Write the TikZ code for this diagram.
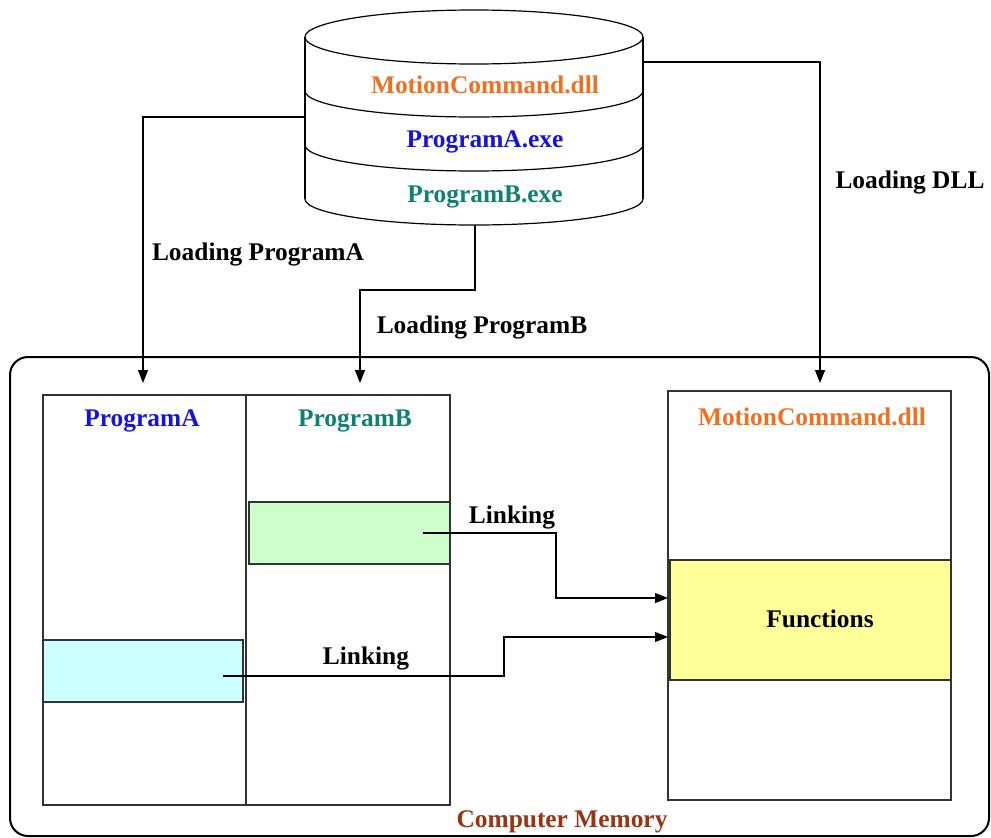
\documentclass[tikz,border=0pt]{standalone}
\usepackage{fontspec}
\setmainfont{Liberation Serif}
\usetikzlibrary{arrows.meta}
\definecolor{dllorange}{HTML}{F07020}
\definecolor{progblue}{HTML}{1414DC}
\definecolor{progteal}{HTML}{108070}
\definecolor{membrown}{HTML}{993311}
\definecolor{linkgreen}{HTML}{CCFFCC}
\definecolor{linkcyan}{HTML}{CCFFFF}
\definecolor{funcyellow}{HTML}{FFFF99}
\definecolor{edge}{HTML}{333333}
\tikzset{
  lbl/.style={font=\fontsize{25.4}{29}\selectfont\bfseries, inner sep=0pt},
  box/.style={draw=edge, line width=1.2pt, inner sep=0pt},
  conn/.style={draw=black, line width=1.1pt},
  arr/.style={conn, -{Triangle[length=13pt,width=10pt]}},
}
\begin{document}
\begin{tikzpicture}[x=1pt,y=-1pt]
\useasboundingbox (0,0) rectangle (991,838);

% computer memory frame
\draw[line width=2pt, rounded corners=18pt] (10,357) rectangle (989,836);
\node[lbl, text=membrown] (mem) at (562,822) {Computer Memory};

% disk holding the files
\fill[white] (305,37) -- (305,199) arc[start angle=180,end angle=360,x radius=169pt,y radius=26pt] -- (643,37) -- cycle;
\draw[conn, line width=1.2pt] (474,37) ellipse [x radius=169pt, y radius=27pt];
\draw[conn, line width=1.2pt] (305,37) -- (305,199);
\draw[conn, line width=1.2pt] (643,37) -- (643,199);
\foreach \yy in {91,145,199}
  \draw[conn, line width=1.2pt] (305,\yy) arc[start angle=180,end angle=360,x radius=169pt,y radius=26pt];
\node[lbl, text=dllorange] (fdll) at (485,85) {MotionCommand.dll};
\node[lbl, text=progblue] (fa) at (485,142) {ProgramA.exe};
\node[lbl, text=progteal] (fb) at (485,197) {ProgramB.exe};
\coordinate (dbL) at (305,117);
\coordinate (dbB) at (475,225);
\coordinate (dbR) at (643,62);

% memory regions
\node[box, minimum width=203pt, minimum height=410pt] (progA) at (144.5,600) {};
\node[box, minimum width=204pt, minimum height=410pt] (progB) at (348,600) {};
\node[lbl, text=progblue] (labA) at (142,421) {ProgramA};
\node[lbl, text=progteal] (labB) at (355,421) {ProgramB};
\node[box, fill=linkgreen, minimum width=201pt, minimum height=62pt] (stubB) at (349.5,533) {};
\node[box, fill=linkcyan, minimum width=200pt, minimum height=62pt] (stubA) at (143,671) {};

\node[box, minimum width=283pt, minimum height=409pt] (dll) at (809.5,595.5) {};
\node[lbl, text=dllorange] (labD) at (812,417) {MotionCommand.dll};
\node[box, fill=funcyellow, minimum width=281pt, minimum height=120pt] (func) at (810.5,620) {};
\node[lbl] (labF) at (820,619) {Functions};

% loading connectors
\coordinate (inA) at (143,383);
\coordinate (inB) at (360,383);
\coordinate (inD) at (820,383);
\coordinate (bendB) at (475,290);
\draw[arr] (dbL) -| (inA);
\draw[arr] (dbB) -- (bendB) -| (inB);
\draw[arr] (dbR) -| (inD);
\node[lbl] (ldA) at (258,254) {Loading ProgramA};
\node[lbl] (ldB) at (482,327) {Loading ProgramB};
\node[lbl] (ldD) at (910,182) {Loading DLL};

% linking connectors
\coordinate (srcB) at (423,533);
\coordinate (srcA) at (223,676);
\coordinate (kinkB) at (556,533);
\coordinate (kinkA) at (504,676);
\coordinate (tgtB) at (668,598);
\coordinate (tgtA) at (668,637);
\draw[arr] (srcB) -- (kinkB) |- (tgtB);
\draw[arr] (srcA) -- (kinkA) |- (tgtA);
\node[lbl] (lkB) at (512,517) {Linking};
\node[lbl] (lkA) at (366,658) {Linking};
\end{tikzpicture}
\end{document}
